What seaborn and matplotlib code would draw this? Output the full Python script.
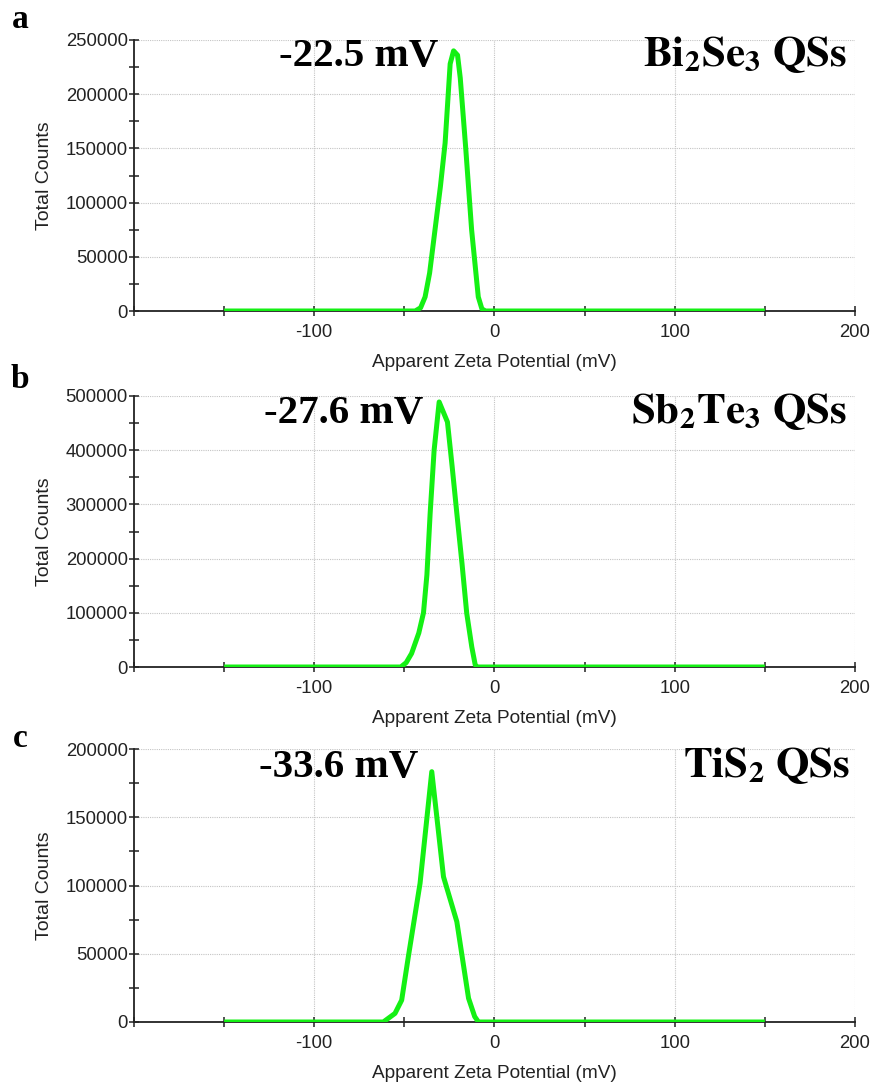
import matplotlib
matplotlib.use("Agg")
import matplotlib.pyplot as plt
import seaborn as sns
import pandas as pd
from matplotlib.ticker import MultipleLocator

# ---- data ----
zeta_a = [-150, -44, -41, -38.5, -36, -33, -30, -27.4, -24.6, -22.7, -20.5, -19, -16, -12.7, -9, -7, -5, 150]
counts_a = [0, 0, 3000, 13000, 35000, 75000, 115000, 155000, 228000, 240000, 236000, 215000, 151000, 75000, 13000, 2000, 0, 0]

zeta_b = [-150, -52, -49, -46, -42, -39.4, -37.5, -35.7, -33.5, -30.7, -26.1, -23.5, -20.9, -18, -15.4, -12.6, -10.7, -9.5, 150]
counts_b = [0, 0, 8000, 25000, 62700, 100000, 170000, 283600, 400000, 489000, 452000, 370000, 283600, 190000, 99000, 37000, 4000, 0, 0]

zeta_c = [-150, -61.7, -55.2, -51.5, -47.8, -41.3, -34.8, -28.3, -20.9, -14.4, -11, -8.9, 150]
counts_c = [0, 0, 6300, 16000, 47800, 101600, 183400, 106400, 73500, 17400, 4000, 0, 0]

panel_letters = ["a", "b", "c"]
peak_labels = ["-22.5 mV", "-27.6 mV", "-33.6 mV"]
sample_labels = [r"$\mathbf{Bi_2Se_3\ QSs}$", r"$\mathbf{Sb_2Te_3\ QSs}$", r"$\mathbf{TiS_2\ QSs}$"]
y_max = [250000, 500000, 200000]
y_major = [50000, 100000, 50000]
x_ticks = [-100, 0, 100, 200]

sns.set_style("white")
plt.rcParams["font.family"] = ["Liberation Sans", "DejaVu Sans"]
plt.rcParams["mathtext.fontset"] = "stix"

fig = plt.figure(figsize=(8.79, 10.88), dpi=100)
W, H = 879, 1088
left, right = 134, 855
tops = [40, 396, 749]
bottoms = [311, 667, 1022]
peak_pos = [(279, 66), (264, 423), (259, 777)]
sample_pos = [(847, 66), (847, 423), (850, 777)]
letter_pos = [(20, 28), (20, 388), (20, 747)]

datasets = [(zeta_a, counts_a), (zeta_b, counts_b), (zeta_c, counts_c)]

for i in range(3):
    ax = fig.add_axes([left / W, 1 - bottoms[i] / H, (right - left) / W, (bottoms[i] - tops[i]) / H])
    df = pd.DataFrame({"zeta": datasets[i][0], "counts": datasets[i][1]})
    ax.set_xlim(-200, 200)
    ax.set_ylim(0, y_max[i])
    ax.xaxis.set_major_locator(MultipleLocator(100))
    ax.xaxis.set_minor_locator(MultipleLocator(50))
    ax.yaxis.set_major_locator(MultipleLocator(y_major[i]))
    ax.yaxis.set_minor_locator(MultipleLocator(y_major[i] / 2))
    ax.grid(True, which="major", color="#c4c4c4", linestyle=(0, (1, 1)), linewidth=0.8)
    ax.set_axisbelow(True)
    sns.lineplot(data=df, x="zeta", y="counts", ax=ax, color="#14f014", linewidth=3.6,
                 estimator=None, sort=False, zorder=5, solid_joinstyle="round", solid_capstyle="butt")
    for s in ["top", "right"]:
        ax.spines[s].set_visible(False)
    for s in ["left", "bottom"]:
        ax.spines[s].set_color("#222222")
        ax.spines[s].set_linewidth(1.3)
    ax.tick_params(which="both", bottom=True, left=True, top=False, right=False)
    ax.tick_params(which="major", direction="inout", length=7, width=1.1, color="#222222",
                   labelsize=13.3, labelcolor="#222222")
    ax.tick_params(which="minor", direction="inout", length=7, width=1.1, color="#222222")
    ax.tick_params(axis="x", which="major", pad=6)
    ax.tick_params(axis="y", which="major", pad=1)
    ax.set_xticks(x_ticks)
    ax.set_xticklabels([str(t) for t in x_ticks])
    ax.set_xlabel("Apparent Zeta Potential (mV)", fontsize=13.7, color="#222222", labelpad=9)
    ax.set_ylabel("Total Counts", fontsize=14, color="#222222")
    ax.yaxis.set_label_coords(-0.112, 0.5)

    fig.text(peak_pos[i][0] / W, 1 - peak_pos[i][1] / H, peak_labels[i], family="Liberation Serif",
             fontweight="bold", fontsize=29.5, ha="left", va="baseline", color="black")
    fig.text(sample_pos[i][0] / W, 1 - sample_pos[i][1] / H, sample_labels[i],
             fontsize=31, ha="right", va="baseline", color="black")
    fig.text(letter_pos[i][0] / W, 1 - letter_pos[i][1] / H, panel_letters[i], family="Liberation Serif",
             fontweight="bold", fontsize=24, ha="center", va="baseline", color="black")

fig.savefig("out.png", dpi=100)
